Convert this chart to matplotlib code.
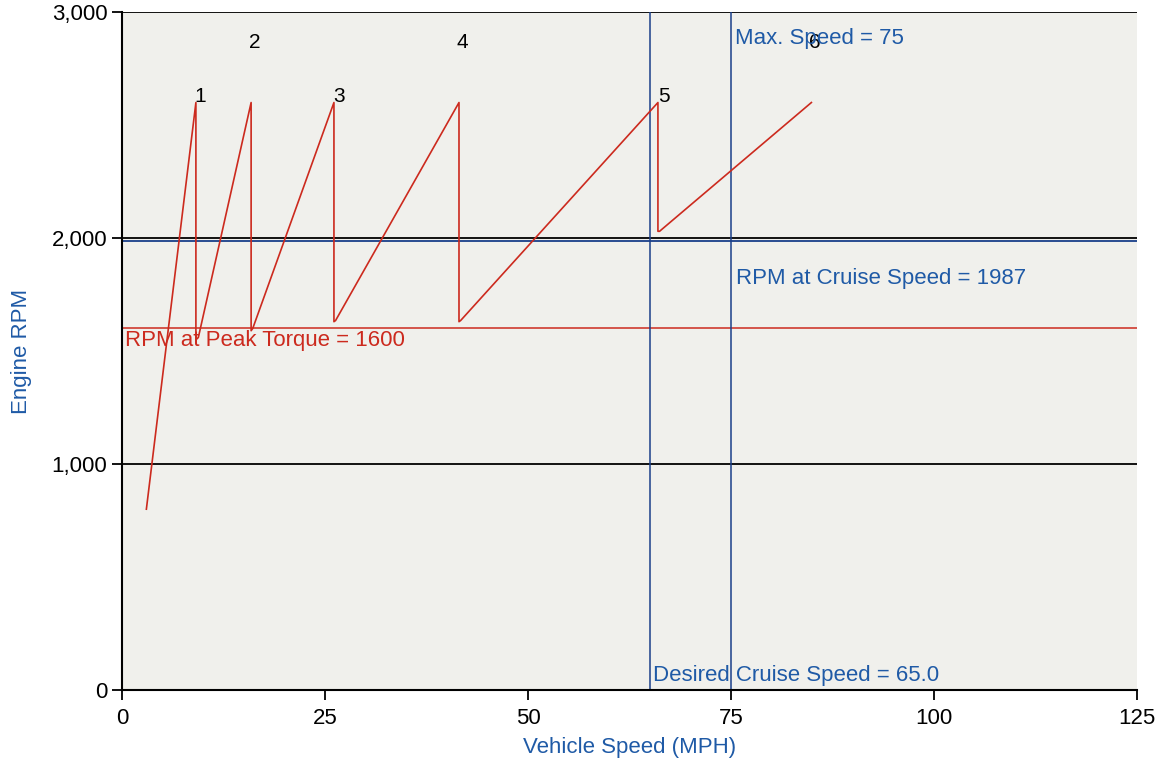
import matplotlib.pyplot as plt
import matplotlib.ticker as mticker

plt.rcParams['font.family'] = ['Liberation Sans Narrow', 'Liberation Sans', 'DejaVu Sans']

# gear curves: speed (MPH) and engine rpm, shift points drop vertically
speed = [3.0, 9.1, 9.1, 9.4, 15.9, 15.9, 16.1, 26.1, 26.1, 26.3, 41.5, 41.5, 41.7, 66.0, 66.0, 66.2, 84.9]
rpm = [800, 2600, 1550, 1560, 2600, 1590, 1600, 2600, 1630, 1635, 2600, 1630, 1635, 2600, 2030, 2030, 2600]

gear_labels = ['1', '2', '3', '4', '5', '6']
gear_label_x = [9.6, 16.4, 26.7, 41.9, 66.7, 85.3]
gear_label_y = [2625, 2865, 2625, 2865, 2625, 2865]

peak_torque_rpm = 1600
cruise_rpm = 1987
cruise_speed = 65.0
max_speed = 75

red = '#cc2a1e'
blue = '#1f5aa6'
dark_blue = '#1a3f8a'

fig = plt.figure(figsize=(11.62, 7.59), dpi=100)
ax = fig.add_axes([0.105, 0.091, 0.8735, 0.893])
ax.set_facecolor('#f0f0ec')

ax.set_xlim(0, 125)
ax.set_ylim(0, 3000)

for yv in [1000, 2000, 3000]:
    ax.axhline(yv, color='black', lw=1.3, zorder=1)

ax.axhline(cruise_rpm, color=dark_blue, lw=1.3, zorder=2)
ax.axhline(peak_torque_rpm, color=red, lw=1.1, zorder=2)
ax.axvline(cruise_speed, color=dark_blue, lw=1.1, zorder=2)
ax.axvline(max_speed, color=dark_blue, lw=1.1, zorder=2)

ax.plot(speed, rpm, color=red, lw=1.2, zorder=3)

for lab, gx, gy in zip(gear_labels, gear_label_x, gear_label_y):
    ax.text(gx, gy, lab, fontsize=15, color='black', ha='center', va='center')

ax.text(75.5, 2885, 'Max. Speed = 75', color=blue, fontsize=16, ha='left', va='center')
ax.text(75.6, 1823, 'RPM at Cruise Speed = 1987', color=blue, fontsize=16, ha='left', va='center')
ax.text(0.4, 1545, 'RPM at Peak Torque = 1600', color=red, fontsize=16, ha='left', va='center')
ax.text(65.4, 65, 'Desired Cruise Speed = 65.0', color=blue, fontsize=16, ha='left', va='center')

ax.set_xticks([0, 25, 50, 75, 100, 125])
ax.set_yticks([0, 1000, 2000, 3000])
ax.yaxis.set_major_formatter(mticker.FuncFormatter(lambda v, p: '{:,.0f}'.format(v)))
ax.tick_params(axis='both', direction='out', length=7, width=1.3, labelsize=16, color='black')
ax.tick_params(axis='x', pad=6)

ax.spines['top'].set_visible(False)
ax.spines['right'].set_visible(False)
ax.spines['left'].set_linewidth(1.5)
ax.spines['bottom'].set_linewidth(1.5)

ax.set_xlabel('Vehicle Speed (MPH)', color=blue, fontsize=16, labelpad=6)
ax.set_ylabel('Engine RPM', color=blue, fontsize=16, labelpad=14)

fig.savefig('out.png', dpi=100, facecolor='white')
